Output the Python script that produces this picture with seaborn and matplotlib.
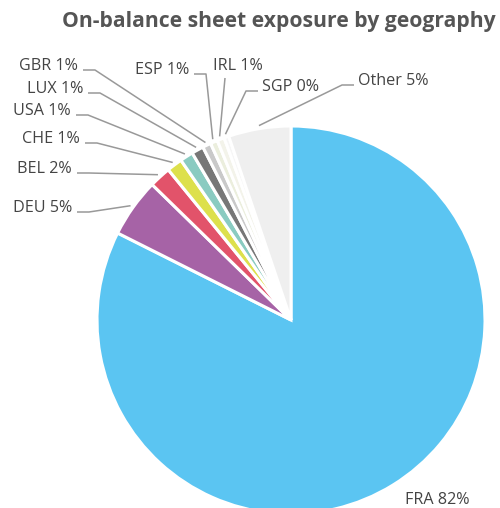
import numpy as np
import matplotlib
matplotlib.use("Agg")
import matplotlib.pyplot as plt
import seaborn as sns

# ============================================================
# Data
# ============================================================

countries = ["FRA", "DEU", "BEL", "CHE", "USA", "LUX", "GBR", "ESP", "IRL", "SGP", "Other"]
shares = [82.4, 4.9, 1.8, 1.3, 1.1, 1.0, 0.7, 0.6, 0.6, 0.4, 5.2]
colors = ["#5bc5f2", "#a663a6", "#e2536a", "#dde04c", "#8acbc1", "#777777",
          "#c9c9c9", "#ebeedd", "#f3f3ea", "#f6f6f6", "#efefef"]

# label layout in pixels: (text x, text y, alignment)
label_pos = {
    "FRA": (405, 500, "left"),
    "DEU": (72, 208, "right"),
    "BEL": (72, 169, "right"),
    "CHE": (80, 139, "right"),
    "USA": (71, 111, "right"),
    "LUX": (83, 89, "right"),
    "GBR": (78, 66, "right"),
    "ESP": (189, 70, "right"),
    "IRL": (213, 66, "left"),
    "SGP": (262, 87, "left"),
    "Other": (358, 81, "left"),
}

# ============================================================
# Figure (axes in pixel units, y flipped)
# ============================================================

sns.set_theme(style="white")
plt.rcParams["font.family"] = ["Open Sans", "DejaVu Sans"]

W, H = 500, 508
fig = plt.figure(figsize=(W / 100, H / 100), dpi=100)
ax = fig.add_axes([0, 0, 1, 1])


def py(y):
    return H - y


cx, cy, R = 291, 320, 194

wedges, _ = ax.pie(
    shares,
    colors=colors,
    startangle=90,
    counterclock=False,
    radius=R,
    center=(cx, py(cy)),
    wedgeprops=dict(edgecolor="white", linewidth=2.2),
    frame=True,
)
ax.set_xlim(0, W)
ax.set_ylim(0, H)
ax.set_aspect("equal")
ax.axis("off")

line_color = "#999999"
text_color = "#444444"

for name, share, w in zip(countries, shares, wedges):
    tx, ty, ha = label_pos[name]
    ax.text(tx, py(ty), f"{name} {share:.0f}%", ha=ha, va="center",
            fontsize=11.6, color=text_color)
    if name == "FRA":
        continue
    mid = np.deg2rad((w.theta1 + w.theta2) / 2)
    ax_x = cx + (R + 3) * np.cos(mid)
    ax_y = py(cy) + (R + 3) * np.sin(mid)
    if name == "IRL":
        pts = [(tx + 12, py(ty + 12)), (ax_x, ax_y)]
    elif ha == "right":
        pts = [(tx + 5, py(ty + 4)), (tx + 17, py(ty + 4)), (ax_x, ax_y)]
    else:
        pts = [(tx - 4, py(ty + 4)), (tx - 16, py(ty + 4)), (ax_x, ax_y)]
    xs, ys = zip(*pts)
    ax.plot(xs, ys, color=line_color, lw=1.1, solid_capstyle="butt")

fig.text(279 / W, 1 - 22 / H, "On-balance sheet exposure by geography",
         ha="center", va="center", fontsize=15.2, fontweight="bold", color="#555555")

fig.savefig("out.png", dpi=100)
